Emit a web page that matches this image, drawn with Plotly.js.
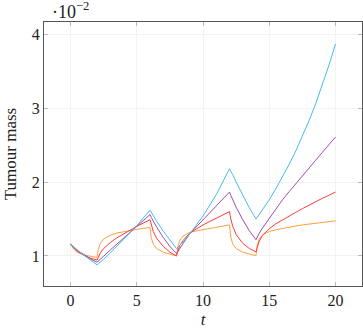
<!DOCTYPE html>
<html>
<head>
<meta charset="utf-8">
<script src="https://cdn.plot.ly/plotly-3.0.1.min.js"></script>
<style>
  html, body { margin: 0; padding: 0; background: #fff; }
  #chart { width: 363px; height: 332px; }
</style>
</head>
<body>
<div id="chart"></div>
<script>
// time samples (shared by all four curves), denser around the treatment switches
const t = [0, 0.25, 0.5, 1, 1.5, 2, 2.1, 2.25, 2.5, 3, 3.5, 4, 5, 6,
  6.1, 6.25, 6.5, 7, 7.5, 8, 8.1, 8.25, 8.5, 9, 10, 11, 12,
  12.1, 12.25, 12.5, 13, 13.5, 14, 14.1, 14.25, 14.5, 14.75, 15, 15.5, 16, 16.5,
  17, 17.5, 18, 18.5, 19, 19.5, 20];

// tumour mass, in units of 1e-2
const massCyan = [1.16, 1.12, 1.085, 1.01, 0.945, 0.88, 0.895, 0.915, 0.955, 1.04, 1.13, 1.22, 1.41, 1.62,
  1.588, 1.56, 1.471, 1.335, 1.212, 1.10, 1.118, 1.145, 1.19, 1.30, 1.54, 1.83, 2.18,
  2.145, 2.10, 2.0, 1.82, 1.65, 1.50, 1.525, 1.56, 1.62, 1.69, 1.76, 1.91, 2.07, 2.24,
  2.42, 2.62, 2.83, 3.06, 3.31, 3.58, 3.87];
const massPurple = [1.16, 1.115, 1.075, 1.02, 0.96, 0.915, 0.93, 0.955, 0.995, 1.08, 1.16, 1.24, 1.40, 1.56,
  1.52, 1.47, 1.39, 1.25, 1.13, 1.03, 1.06, 1.10, 1.17, 1.30, 1.49, 1.68, 1.865,
  1.82, 1.76, 1.66, 1.49, 1.34, 1.22, 1.26, 1.31, 1.38, 1.445, 1.51, 1.64, 1.76, 1.87,
  1.98, 2.085, 2.19, 2.295, 2.40, 2.505, 2.61];
const massRed = [1.16, 1.11, 1.065, 1.01, 0.97, 0.945, 0.99, 1.04, 1.10, 1.18, 1.245, 1.30, 1.40, 1.49,
  1.41, 1.33, 1.24, 1.13, 1.05, 1.0, 1.07, 1.14, 1.21, 1.31, 1.42, 1.515, 1.60,
  1.50, 1.40, 1.29, 1.17, 1.10, 1.055, 1.12, 1.20, 1.28, 1.33, 1.37, 1.435, 1.49, 1.54,
  1.59, 1.64, 1.69, 1.735, 1.78, 1.82, 1.865];
const massOrange = [1.16, 1.09, 1.05, 1.015, 0.995, 0.98, 1.09, 1.17, 1.23, 1.28, 1.31, 1.33, 1.36, 1.385,
  1.24, 1.16, 1.10, 1.05, 1.02, 1.0, 1.13, 1.21, 1.27, 1.32, 1.355, 1.39, 1.42,
  1.25, 1.16, 1.10, 1.05, 1.025, 1.005, 1.15, 1.23, 1.285, 1.31, 1.33, 1.355, 1.375, 1.39,
  1.405, 1.42, 1.43, 1.443, 1.455, 1.465, 1.475];

const xTicks = [0, 5, 10, 15, 20];
const yTicks = [1, 2, 3, 4];

const serif = "Liberation Serif, Times New Roman, serif";

function line(y, color) {
  return {
    x: t,
    y: y,
    mode: "lines",
    line: { color: color, width: 1 },
    hoverinfo: "skip",
  };
}

const data = [
  line(massOrange, "#ffa040"),
  line(massRed, "#ff3b3b"),
  line(massPurple, "#a04cac"),
  line(massCyan, "#45bdee"),
];

const axisCommon = {
  showline: true,
  linecolor: "#555",
  linewidth: 1,
  mirror: "ticks",
  ticks: "inside",
  ticklen: 4,
  tickcolor: "#bbb",
  showgrid: true,
  gridcolor: "#f3f3f3",
  zeroline: false,
  tickfont: { family: serif, size: 16, color: "#222" },
};

const layout = {
  width: 363,
  height: 332,
  margin: { l: 44, r: 1, t: 22, b: 46 },
  showlegend: false,
  paper_bgcolor: "#fff",
  plot_bgcolor: "#fff",
  xaxis: Object.assign({}, axisCommon, {
    range: [-2, 22],
    tickvals: xTicks,
    ticktext: xTicks.map(String),
    title: { text: "<i>t</i>", font: { family: serif, size: 17, color: "#222" }, standoff: 4 },
  }),
  yaxis: Object.assign({}, axisCommon, {
    range: [0.593, 4.167],
    tickvals: yTicks,
    ticktext: yTicks.map(String),
    title: { text: "Tumour mass", font: { family: serif, size: 17, color: "#222" }, standoff: 10 },
  }),
  annotations: [
    {
      // axis exponent label above the y axis
      text: "·10<sup>−2</sup>",
      xref: "paper",
      yref: "paper",
      x: 0,
      y: 1,
      xanchor: "left",
      yanchor: "bottom",
      xshift: 6,
      yshift: -2,
      showarrow: false,
      font: { family: serif, size: 18, color: "#222" },
    },
  ],
};

Plotly.newPlot("chart", data, layout, { staticPlot: true, displayModeBar: false });
</script>
</body>
</html>
